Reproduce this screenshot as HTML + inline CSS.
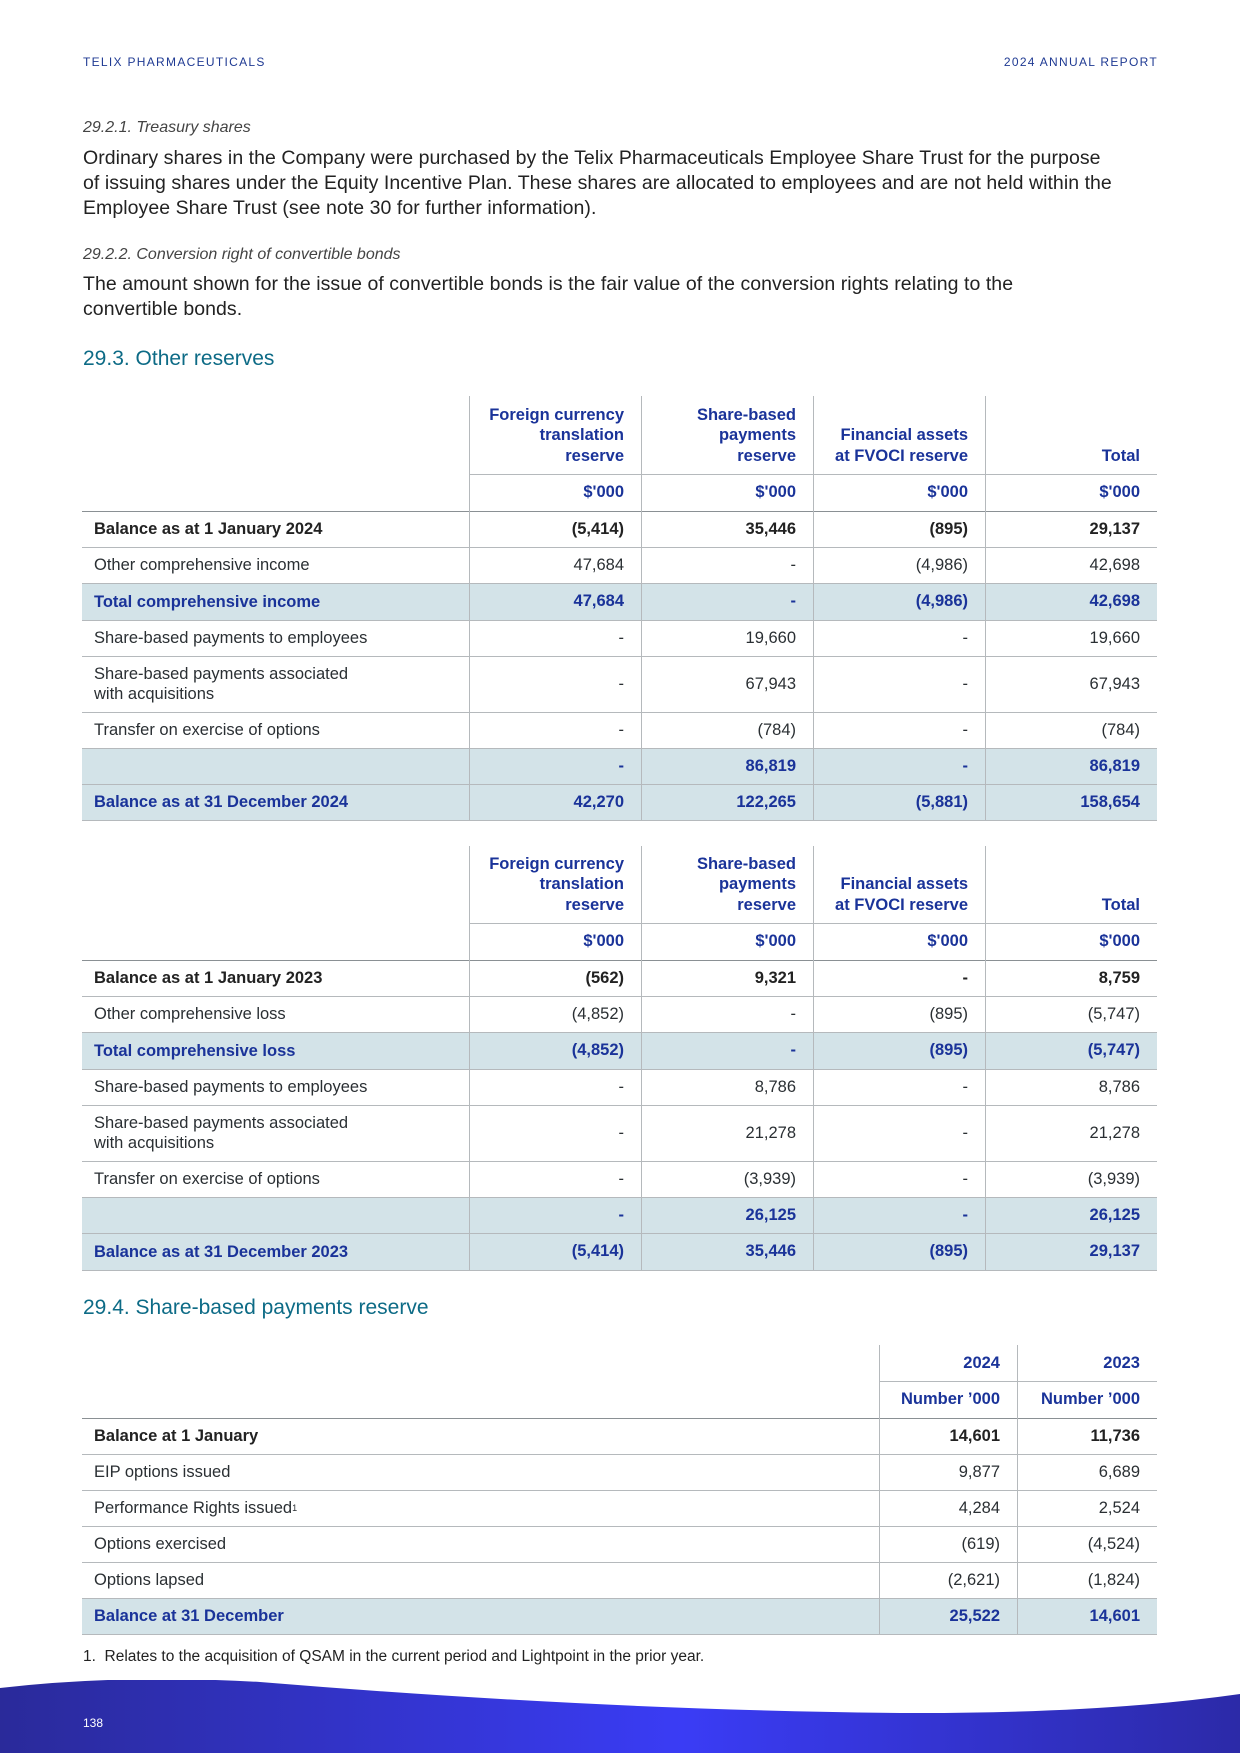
<!DOCTYPE html>
<html><head><meta charset="utf-8"><style>
body{margin:0;width:1240px;height:1753px;position:relative;background:#fff;font-family:"Liberation Sans",sans-serif;color:#2a2f33;overflow:hidden}
.a{position:absolute}
.hdr{font-size:12px;letter-spacing:1.3px;color:#1f3a93;top:55px}
.it{font-style:italic;font-size:16px;color:#444;left:83px}
.p{font-size:19.5px;letter-spacing:0.05px;line-height:25px;left:83px;width:1200px;color:#222;white-space:nowrap}
.h2{font-size:21px;color:#0d6b86;left:83px}
.cell{position:absolute;font-size:16.5px;box-sizing:border-box;display:flex;align-items:center}
.num{justify-content:flex-end;padding-right:17px}
.lab{padding-left:12px}
.b{font-weight:bold;color:#222}
.hl{background:#d3e3e8;font-weight:bold;color:#1a3399}
.hh{font-weight:bold;color:#1a3399;text-align:right;justify-content:flex-end;align-items:flex-end;padding-right:17px;padding-bottom:8px;line-height:20.5px}
.vl{position:absolute;width:1px;background:#b5b9bc;z-index:2}
.hlrow{position:absolute;height:1px;background:#b5b9bc;z-index:2}
</style></head><body>
<div class="a hdr" style="left:83px">TELIX PHARMACEUTICALS</div>
<div class="a hdr" style="right:82px">2024 ANNUAL REPORT</div>
<div class="a it" style="top:119px">29.2.1. Treasury shares</div>
<div class="a p" style="top:146px">Ordinary shares in the Company were purchased by the Telix Pharmaceuticals Employee Share Trust for the purpose<br>of issuing shares under the Equity Incentive Plan. These shares are allocated to employees and are not held within the<br>Employee Share Trust (see note 30 for further information).</div>
<div class="a it" style="top:246px">29.2.2. Conversion right of convertible bonds</div>
<div class="a p" style="top:272px">The amount shown for the issue of convertible bonds is the fair value of the conversion rights relating to the<br>convertible bonds.</div>
<div class="a h2" style="top:347px">29.3. Other reserves</div>
<div class="a h2" style="top:1296px">29.4. Share-based payments reserve</div>
<div class="a" style="top:1648px;left:83px;font-size:15.5px;color:#222">1.&nbsp; Relates to the acquisition of QSAM in the current period and Lightpoint in the prior year.</div>
<svg class="a" style="left:0;top:1680px" width="1240" height="73">
<defs><linearGradient id="g" x1="0" x2="1"><stop offset="0" stop-color="#2a2a9a"/><stop offset="0.55" stop-color="#3a3cf5"/><stop offset="1" stop-color="#2c2aa8"/></linearGradient></defs>
<path d="M0 8 Q120 -6 260 2 Q600 30 900 33 Q1100 34 1240 14 L1240 73 L0 73Z" fill="url(#g)"/>
</svg>
<div class="a" style="left:83px;top:1716px;font-size:12px;color:#fff">138</div>
<div id="root"></div>
<script>
const hdr3=["Foreign currency<br>translation<br>reserve","Share-based<br>payments<br>reserve","Financial assets<br>at FVOCI reserve","Total"];
const rows2024=[["Balance as at 1 January 2024",["(5,414)","35,446","(895)","29,137"],"b",36],
["Other comprehensive income",["47,684","-","(4,986)","42,698"],"n",36],
["Total comprehensive income",["47,684","-","(4,986)","42,698"],"hl",37],
["Share-based payments to employees",["-","19,660","-","19,660"],"n",36],
["Share-based payments associated<br>with acquisitions",["-","67,943","-","67,943"],"n",56],
["Transfer on exercise of options",["-","(784)","-","(784)"],"n",36],
["",["-","86,819","-","86,819"],"hl",36],
["Balance as at 31 December 2024",["42,270","122,265","(5,881)","158,654"],"hl",36]];
const rows2023=[["Balance as at 1 January 2023",["(562)","9,321","-","8,759"],"b",36],
["Other comprehensive loss",["(4,852)","-","(895)","(5,747)"],"n",36],
["Total comprehensive loss",["(4,852)","-","(895)","(5,747)"],"hl",37],
["Share-based payments to employees",["-","8,786","-","8,786"],"n",36],
["Share-based payments associated<br>with acquisitions",["-","21,278","-","21,278"],"n",56],
["Transfer on exercise of options",["-","(3,939)","-","(3,939)"],"n",36],
["",["-","26,125","-","26,125"],"hl",36],
["Balance as at 31 December 2023",["(5,414)","35,446","(895)","29,137"],"hl",37]];
const rowsSbp=[["Balance at 1 January",["14,601","11,736"],"b",36],
["EIP options issued",["9,877","6,689"],"n",36],
["Performance Rights issued<sup style='font-size:9px'>1</sup>",["4,284","2,524"],"n",36],
["Options exercised",["(619)","(4,524)"],"n",36],
["Options lapsed",["(2,621)","(1,824)"],"n",36],
["Balance at 31 December",["25,522","14,601"],"hl",36]];
const root=document.getElementById('root');
function mk(cls,l,t,w,h,html){const d=document.createElement('div');d.className=cls;d.style.cssText=`left:${l}px;top:${t}px;width:${w}px;height:${h}px`;d.innerHTML=html;root.appendChild(d);return d;}
function table(name,top,hh,colX,heads,units,rows){
 const L=82,R=1157;
 heads.forEach((h,i)=>{const e=mk('cell hh',colX[i],top,colX[i+1]-colX[i],hh,h);
 
 });
 let y=top+hh;
 mk('hlrow',colX[0],y,R-colX[0],1,'');
 units.forEach((u,i)=>{const e=mk('cell num hl',colX[i],y,colX[i+1]-colX[i],37,u);e.style.background='none';
 
 });
 y+=37;
 const ln=mk('hlrow',L,y,R-L,1,'');ln.style.background='#8a9094';
 rows.forEach(r=>{const [lab,vals,t,h]=r;const c=t==='b'?' b':t==='hl'?' hl':'';
  const le=mk('cell lab'+c,L,y,colX[0]-L,h,lab);le.style.lineHeight='20px';
  
  
  vals.forEach((v,i)=>{const e=mk('cell num'+c,colX[i],y,colX[i+1]-colX[i],h,v);
   
   });
  y+=h;mk('hlrow',L,y,R-L,1,'');});
 colX.slice(0,-1).forEach(x=>mk('vl',x,top,1,y-top,''));
}
table('reserves-2024',396,78,[469,641,813,985,1157],hdr3,["$'000","$'000","$'000","$'000"],rows2024);
table('reserves-2023',846,77,[469,641,813,985,1157],hdr3,["$'000","$'000","$'000","$'000"],rows2023);
table('sbp-reserve',1345,36,[879,1017,1157],["2024","2023"],["Number ’000","Number ’000"],rowsSbp);
</script>
</body></html>
